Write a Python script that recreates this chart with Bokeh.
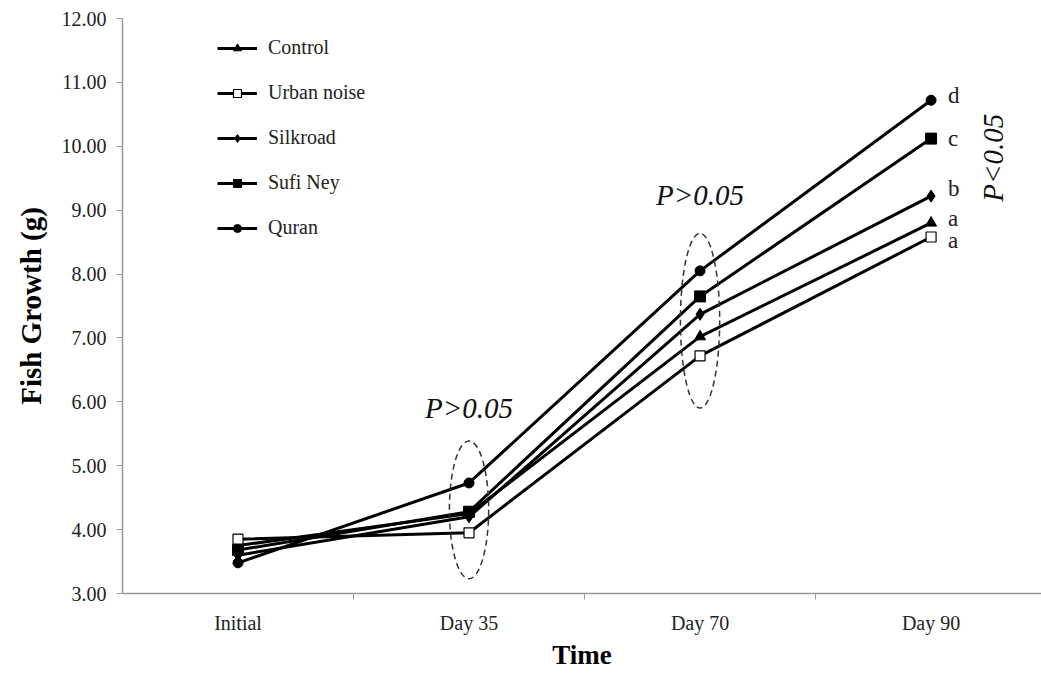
from bokeh.plotting import figure
from bokeh.models import FixedTicker, Legend, LegendItem, Label, Range1d, ColumnDataSource
from bokeh.embed import file_html
from bokeh.resources import INLINE

times = ["Initial", "Day 35", "Day 70", "Day 90"]
x_pos = [0, 1, 2, 3]
control = [3.75, 4.25, 7.02, 8.80]
urban = [3.85, 3.95, 6.72, 8.58]
silkroad = [3.60, 4.20, 7.37, 9.22]
sufi = [3.68, 4.28, 7.65, 10.12]
quran = [3.48, 4.73, 8.05, 10.72]
letters = ["a", "a", "b", "c", "d"]
y_ticks = [3, 4, 5, 6, 7, 8, 9, 10, 11, 12]

FONT = "Liberation Serif"

p = figure(width=1041, height=673, output_backend="svg", toolbar_location=None,
           x_range=Range1d(-0.5, 3.478), y_range=Range1d(3, 12),
           min_border_left=122, min_border_right=0, min_border_top=18, min_border_bottom=80)
p.outline_line_color = None
p.grid.visible = False

# axes
p.xaxis.ticker = FixedTicker(ticks=x_pos, minor_ticks=[0.5, 1.5, 2.5, 3.5])
p.xaxis.major_label_overrides = {i: t for i, t in zip(x_pos, times)}
p.xaxis.major_tick_in = 0
p.xaxis.major_tick_out = 0
p.xaxis.minor_tick_in = 0
p.xaxis.minor_tick_out = 6
p.xaxis.minor_tick_line_color = "#999999"
p.yaxis.ticker = FixedTicker(ticks=y_ticks, minor_ticks=[])
p.yaxis.major_label_overrides = {v: f"{v:.2f}" for v in y_ticks}
p.yaxis.major_tick_in = 0
p.yaxis.major_tick_out = 6
for ax in (p.xaxis, p.yaxis):
    ax.axis_line_color = "#999999"
    ax.axis_line_width = 1.5
    ax.major_label_text_font = FONT
    ax.major_label_text_font_size = "20px"
    ax.major_label_text_color = "#222222"
    ax.axis_label_text_font = FONT
    ax.axis_label_text_font_style = "bold"
    ax.axis_label_text_color = "#000000"
p.xaxis.axis_label_text_font_size = "27px"
p.yaxis.axis_label_text_font_size = "29px"
p.xaxis.major_tick_line_color = None
p.yaxis.major_tick_line_color = "#999999"
p.xaxis.axis_label = "Time"
p.yaxis.axis_label = "Fish Growth (g)"
p.xaxis.major_label_standoff = 12
p.xaxis.axis_label_standoff = 3
p.yaxis.major_label_standoff = 10
p.yaxis.axis_label_standoff = 12

series = [
    ("Control", control, "triangle", "black", 11),
    ("Urban noise", urban, "square", "white", 10),
    ("Silkroad", silkroad, "diamond", "black", 12),
    ("Sufi Ney", sufi, "square", "black", 11),
    ("Quran", quran, "circle", "black", 10),
]

items = []
for name, ys, marker, fill, size in series:
    r1 = p.line(x_pos, ys, line_color="black", line_width=3)
    r2 = p.scatter(x_pos, ys, marker=marker, size=size, fill_color=fill,
                   line_color="black", line_width=1.2 if fill == "white" else 1)
    items.append(LegendItem(label=name, renderers=[r1, r2]))

legend = Legend(items=items, location=(95, 354), orientation="vertical",
                glyph_width=40, glyph_height=20, label_height=20, spacing=22,
                padding=0, margin=0, border_line_color=None, background_fill_alpha=0,
                label_text_font=FONT, label_text_font_size="20px", label_standoff=11,
                label_text_color="#222222")
p.add_layout(legend, "center")

# dashed ellipses around non-significant points
ell = ColumnDataSource(dict(x=[1, 2], y=[4.31, 7.27], w=[0.17, 0.17], h=[2.16, 2.74]))
p.ellipse(x="x", y="y", width="w", height="h", source=ell, fill_color=None,
          line_color="#333333", line_dash="6 4", line_width=1.5)

# P annotations
for lx, ly, txt, ang in [(1, 5.91, "P>0.05", 0), (2, 9.23, "P>0.05", 0),
                         (3.27, 9.82, "P<0.05", 1.5708)]:
    p.add_layout(Label(x=lx, y=ly, text=txt, text_font=FONT, text_font_size="29px",
                       text_font_style="italic", text_align="center",
                       text_baseline="middle", angle=ang, text_color="#111111"))

# significance letters at Day 90
end_vals = [urban[3], control[3], silkroad[3], sufi[3], quran[3]]
offsets = [-0.06, 0.07, 0.12, 0.0, 0.07]
for v, lt, off in zip(end_vals, letters, offsets):
    p.add_layout(Label(x=3, y=v + off, x_offset=17, text=lt, text_font=FONT,
                       text_font_size="23px", text_baseline="middle", text_color="#222222"))

open("out.html", "w").write(file_html(p, INLINE))
